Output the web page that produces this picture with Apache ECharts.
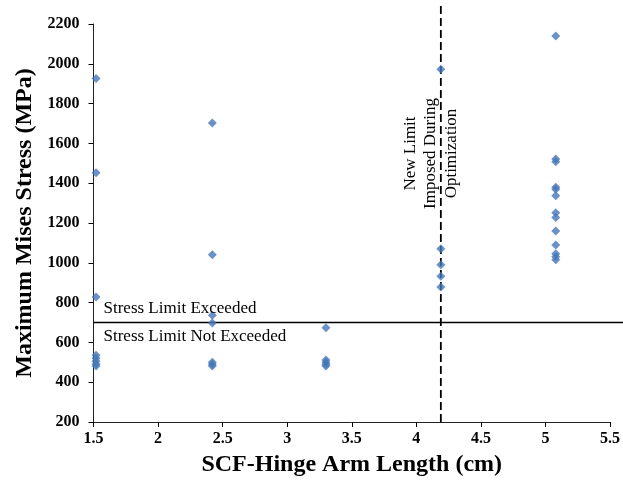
<!DOCTYPE html>
<html>
<head>
<meta charset="utf-8">
<script src="https://cdn.jsdelivr.net/npm/echarts@6/dist/echarts.min.js"></script>
<style>
  html, body { margin: 0; padding: 0; background: #fff; }
  #chart { width: 623px; height: 482px; }
</style>
</head>
<body>
<div id="chart"></div>
<script>
// Arm lengths (cm) of each design group and the peak von Mises stress (MPa) of its runs
const armLength = [1.52, 2.42, 3.30, 4.19, 5.08];
const stressAt152 = [1926, 1453, 828, 535, 520, 505, 492, 482];
const stressAt242 = [1703, 1041, 737, 697, 500, 490, 482];
const stressAt330 = [674, 512, 500, 490, 482];
const stressAt419 = [1972, 1070, 990, 932, 879];
const stressAt508 = [2140, 1522, 1508, 1380, 1370, 1337, 1252, 1228, 1160, 1090, 1045, 1030, 1015];
const stressGroups = [stressAt152, stressAt242, stressAt330, stressAt419, stressAt508];

// Reference levels
const stressLimit = 700;      // MPa
const newLimitArm = 4.19;     // cm

// Axis ticks
const xTicks = [1.5, 2, 2.5, 3, 3.5, 4, 4.5, 5, 5.5];
const yTicks = [200, 400, 600, 800, 1000, 1200, 1400, 1600, 1800, 2000, 2200];

const points = [];
stressGroups.forEach((vals, i) => vals.forEach(v => points.push([armLength[i], v])));

const serif = '"Liberation Serif", "Times New Roman", serif';
const chart = echarts.init(document.getElementById('chart'), null, { renderer: 'canvas' });

chart.setOption({
  animation: false,
  backgroundColor: '#fff',
  grid: { left: 93.5, right: 12.7, top: 24, bottom: 59.7, containLabel: false },
  xAxis: {
    type: 'value',
    min: xTicks[0], max: xTicks[xTicks.length - 1], interval: 0.5,
    name: 'SCF-Hinge Arm Length (cm)',
    nameLocation: 'middle', nameGap: 31,
    nameTextStyle: { fontFamily: serif, fontWeight: 'bold', fontSize: 24, color: '#000' },
    axisLine: { show: true, onZero: false, lineStyle: { color: '#222', width: 1 } },
    axisTick: { show: true, inside: false, length: 5, lineStyle: { color: '#000' } },
    axisLabel: { fontFamily: serif, fontWeight: 'bold', fontSize: 16, color: '#000', margin: 9,
                 formatter: v => String(v) },
    splitLine: { show: false }
  },
  yAxis: {
    type: 'value',
    min: yTicks[0], max: yTicks[yTicks.length - 1], interval: 200,
    name: 'Maximum Mises Stress (MPa)',
    nameLocation: 'middle', nameGap: 57,
    nameTextStyle: { fontFamily: serif, fontWeight: 'bold', fontSize: 24, color: '#000' },
    axisLine: { show: true, onZero: false, lineStyle: { color: '#222', width: 1 } },
    axisTick: { show: true, inside: false, length: 5, lineStyle: { color: '#000' } },
    axisLabel: { fontFamily: serif, fontWeight: 'bold', fontSize: 16, color: '#000', margin: 14,
                 formatter: v => String(v) },
    splitLine: { show: false }
  },
  series: [{
    type: 'scatter',
    data: points,
    symbol: 'diamond',
    symbolSize: [9, 9],
    itemStyle: { color: '#4677B8' },
    z: 5
  }]
});

// Reference lines and notes, placed through the axis scales
const limitPt = chart.convertToPixel({ gridIndex: 0 }, [xTicks[0], stressLimit]);
const newLimitPt = chart.convertToPixel({ gridIndex: 0 }, [newLimitArm, yTicks[0]]);
const W = chart.getWidth();

chart.setOption({
  graphic: [
    {
      type: 'line', z: 3,
      shape: { x1: limitPt[0], y1: limitPt[1], x2: W, y2: limitPt[1] },
      style: { stroke: '#000', lineWidth: 1.5 }
    },
    {
      type: 'line', z: 3,
      shape: { x1: newLimitPt[0], y1: 6, x2: newLimitPt[0], y2: newLimitPt[1] },
      style: { stroke: '#000', lineWidth: 1.8, lineDash: [8, 4] }
    },
    {
      type: 'text', z: 6,
      x: limitPt[0] + 10, y: limitPt[1] - 14,
      style: { text: 'Stress Limit Exceeded', font: '17px ' + serif, fill: '#000',
               textAlign: 'left', textVerticalAlign: 'middle' }
    },
    {
      type: 'text', z: 6,
      x: limitPt[0] + 10, y: limitPt[1] + 14,
      style: { text: 'Stress Limit Not Exceeded', font: '17px ' + serif, fill: '#000',
               textAlign: 'left', textVerticalAlign: 'middle' }
    },
    {
      type: 'text', z: 6,
      x: newLimitPt[0] - 10, y: 153.5,
      rotation: Math.PI / 2,
      style: { text: 'New Limit\nImposed During\nOptimization', font: '17px ' + serif, fill: '#000',
               textAlign: 'center', textVerticalAlign: 'middle', lineHeight: 20.5 }
    }
  ]
});
</script>
</body>
</html>
